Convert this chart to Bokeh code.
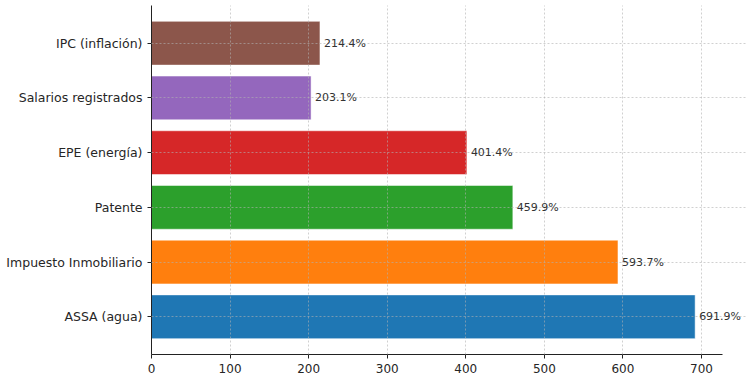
from bokeh.plotting import figure
from bokeh.models import ColumnDataSource, FactorRange, FixedTicker, LabelSet
from bokeh.embed import file_html
from bokeh.resources import INLINE
from bokeh.core.properties import value

categories = ["ASSA (agua)", "Impuesto Inmobiliario", "Patente", "EPE (energía)",
              "Salarios registrados", "IPC (inflación)"]
values = [691.9, 593.7, 459.9, 401.4, 203.1, 214.4]
colors = ["#1f77b4", "#ff7f0e", "#2ca02c", "#d62728", "#9467bd", "#8c564b"]
x_ticks = [0, 100, 200, 300, 400, 500, 600, 700]

labels = [f"{v:.1f}%" for v in values]
src = ColumnDataSource(dict(cat=categories, val=values, color=colors, label=labels))

p = figure(width=750, height=375, output_backend="svg", toolbar_location=None,
           y_range=FactorRange(factors=categories, range_padding=0.0633),
           x_range=(0, 756), min_border_left=151, min_border_right=5,
           min_border_top=5)

p.hbar(y="cat", right="val", left=0, height=0.8, fill_color="color",
       line_color="white", line_width=0.5, source=src)

lbls = LabelSet(x="val", y="cat", text="label", source=src, x_offset=4,
                text_align="left", text_baseline="middle", text_font_size="11px",
                text_font=value("DejaVu Sans"), text_color="#333333")
p.add_layout(lbls)

p.outline_line_color = None
for g in (p.xgrid, p.ygrid):
    g.grid_line_color = "#b0b0b0"
    g.grid_line_dash = "2 2"
    g.grid_line_alpha = 0.6
    g.level = "annotation"
p.ygrid.bounds = (0, 727)

p.xaxis.ticker = FixedTicker(ticks=x_ticks)
p.xaxis.bounds = (0, 727)
p.xaxis.minor_tick_line_color = None
for ax in (p.xaxis, p.yaxis):
    ax.axis_line_color = "#222222"
    ax.major_tick_line_color = "#222222"
    ax.major_tick_out = 4
    ax.major_tick_in = 0
    ax.major_label_text_font = "DejaVu Sans"
    ax.major_label_text_color = "#262626"
p.xaxis.major_label_text_font_size = "12px"
p.yaxis.major_label_text_font_size = "12.5px"
p.yaxis.major_label_standoff = 5

open("out.html", "w").write(file_html(p, INLINE))
